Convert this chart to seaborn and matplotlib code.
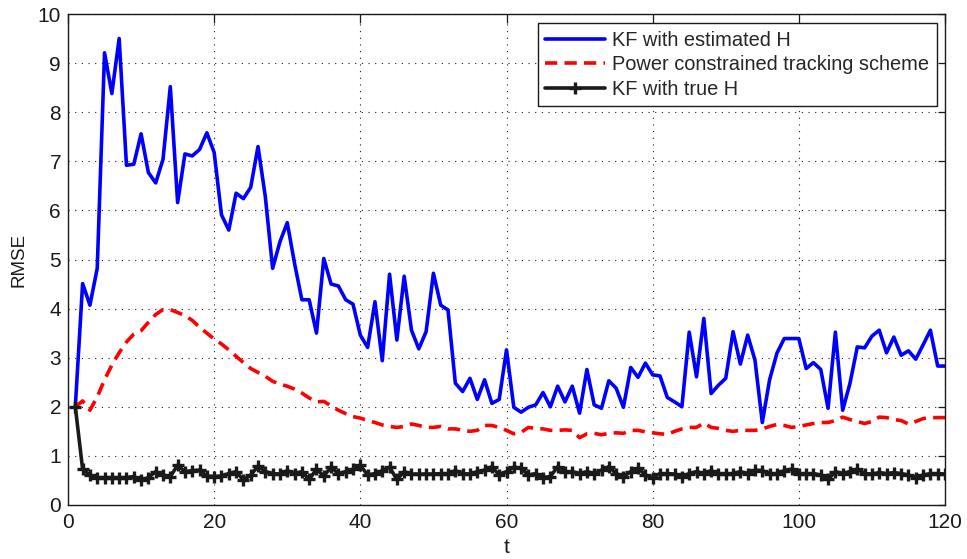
import numpy as np
import pandas as pd
import matplotlib
matplotlib.use("Agg")
import matplotlib.pyplot as plt
import seaborn as sns

# Time steps
t = np.arange(1, 121)

# RMSE of the Kalman filter driven by the estimated channel
kf_estimated = [
    2.00, 4.51, 4.07, 4.82, 9.21, 8.38, 9.50, 6.92, 6.94, 7.56,
    6.77, 6.56, 7.04, 8.52, 6.16, 7.15, 7.11, 7.24, 7.58, 7.18,
    5.91, 5.60, 6.35, 6.24, 6.47, 7.30, 6.28, 4.82, 5.36, 5.75,
    4.92, 4.18, 4.18, 3.50, 5.02, 4.50, 4.46, 4.18, 4.09, 3.46,
    3.21, 4.14, 2.94, 4.70, 3.36, 4.66, 3.56, 3.18, 3.53, 4.72,
    4.07, 3.97, 2.48, 2.31, 2.58, 2.15, 2.55, 2.07, 2.15, 3.16,
    1.99, 1.89, 1.99, 2.04, 2.29, 2.00, 2.42, 2.10, 2.42, 1.87,
    2.76, 2.04, 1.97, 2.53, 2.38, 1.99, 2.80, 2.60, 2.89, 2.65,
    2.63, 2.19, 2.10, 2.00, 3.52, 2.61, 3.80, 2.27, 2.44, 2.58,
    3.53, 2.87, 3.46, 2.95, 1.68, 2.55, 3.09, 3.39, 3.39, 3.39,
    2.78, 2.90, 2.76, 1.97, 3.52, 1.93, 2.48, 3.22, 3.20, 3.44,
    3.56, 3.10, 3.42, 3.05, 3.14, 2.97, 3.26, 3.56, 2.83, 2.83,
]

# RMSE of the power constrained tracking scheme
power_constrained = [
    2.00, 2.12, 1.93, 2.20, 2.55, 2.85, 3.10, 3.32, 3.48, 3.55,
    3.72, 3.88, 3.98, 3.98, 3.92, 3.86, 3.76, 3.62, 3.50, 3.38,
    3.28, 3.16, 3.03, 2.90, 2.78, 2.70, 2.62, 2.52, 2.46, 2.42,
    2.36, 2.28, 2.18, 2.10, 2.11, 2.02, 1.93, 1.86, 1.80, 1.77,
    1.72, 1.68, 1.63, 1.60, 1.58, 1.60, 1.65, 1.62, 1.58, 1.58,
    1.60, 1.55, 1.55, 1.52, 1.50, 1.52, 1.62, 1.62, 1.58, 1.52,
    1.45, 1.48, 1.58, 1.56, 1.55, 1.52, 1.52, 1.53, 1.52, 1.37,
    1.45, 1.46, 1.43, 1.46, 1.47, 1.46, 1.52, 1.52, 1.49, 1.47,
    1.45, 1.44, 1.50, 1.55, 1.58, 1.58, 1.67, 1.58, 1.56, 1.52,
    1.50, 1.52, 1.52, 1.52, 1.55, 1.60, 1.64, 1.62, 1.58, 1.60,
    1.63, 1.66, 1.68, 1.68, 1.72, 1.79, 1.74, 1.70, 1.66, 1.70,
    1.79, 1.78, 1.74, 1.72, 1.65, 1.70, 1.76, 1.78, 1.78, 1.78,
]

# RMSE of the Kalman filter with the true channel
kf_true = [
    2.00, 0.73, 0.61, 0.56, 0.56, 0.56, 0.56, 0.56, 0.58, 0.50,
    0.56, 0.68, 0.61, 0.58, 0.81, 0.68, 0.70, 0.71, 0.59, 0.58,
    0.59, 0.64, 0.68, 0.51, 0.61, 0.79, 0.68, 0.64, 0.63, 0.70,
    0.64, 0.68, 0.52, 0.73, 0.59, 0.77, 0.64, 0.68, 0.73, 0.81,
    0.61, 0.64, 0.70, 0.77, 0.52, 0.68, 0.63, 0.63, 0.63, 0.63,
    0.64, 0.64, 0.70, 0.64, 0.63, 0.68, 0.71, 0.78, 0.61, 0.68,
    0.77, 0.75, 0.61, 0.64, 0.56, 0.58, 0.78, 0.68, 0.68, 0.64,
    0.68, 0.64, 0.71, 0.78, 0.64, 0.58, 0.68, 0.75, 0.61, 0.56,
    0.64, 0.64, 0.63, 0.58, 0.64, 0.68, 0.64, 0.70, 0.64, 0.64,
    0.64, 0.68, 0.64, 0.71, 0.70, 0.64, 0.64, 0.70, 0.73, 0.64,
    0.64, 0.64, 0.61, 0.52, 0.68, 0.64, 0.68, 0.73, 0.64, 0.63,
    0.66, 0.64, 0.66, 0.64, 0.61, 0.56, 0.61, 0.64, 0.64, 0.63,
]

labels = ["KF with estimated H", "Power constrained tracking scheme", "KF with true H"]
x_ticks = [0, 20, 40, 60, 80, 100, 120]
y_ticks = list(range(0, 11))

sns.set_theme(style="white")
plt.rcParams["font.family"] = ["Liberation Sans", "DejaVu Sans"]

fig = plt.figure(figsize=(9.67, 5.59), dpi=100)
ax = fig.add_axes([68 / 967, 1 - 505 / 559, (945 - 68) / 967, (505 - 14) / 559])

df = pd.DataFrame({"t": t, "est": kf_estimated, "pow": power_constrained, "true": kf_true})

sns.lineplot(data=df, x="t", y="est", ax=ax, color=(0, 0, 1), linewidth=2.6,
             label=labels[0])
sns.lineplot(data=df, x="t", y="pow", ax=ax, color=(1, 0, 0), linewidth=2.6,
             linestyle=(0, (3.4, 2.0)), label=labels[1])
sns.lineplot(data=df, x="t", y="true", ax=ax, color="k", linewidth=2.6,
             marker="+", markersize=8.5, markeredgewidth=2.4,
             markeredgecolor="k", label=labels[2])

ax.set_xlim(0, 120)
ax.set_ylim(0, 10)
ax.set_xticks(x_ticks)
ax.set_yticks(y_ticks)
ax.set_xticklabels([str(v) for v in x_ticks])
ax.set_yticklabels([str(v) for v in y_ticks])

ax.grid(True, color="k", linestyle=(0, (1, 5)), linewidth=0.8)
for s in ax.spines.values():
    s.set_visible(True)
    s.set_color("k")
    s.set_linewidth(1.0)

ax.tick_params(axis="both", which="both", direction="in", top=True, right=True,
               colors="k", labelsize=15, width=0.9)
ax.tick_params(axis="x", length=6.5, pad=6)
ax.tick_params(axis="y", length=5, pad=5)

ax.set_xlabel("t", fontsize=15, color="k", labelpad=4)
ax.set_ylabel("RMSE", fontsize=13.5, color="k", labelpad=7)

leg = ax.legend(loc="upper right", bbox_to_anchor=(937 / 967, 1 - 23 / 559),
                bbox_transform=fig.transFigure, borderaxespad=0,
                fontsize=14.4, frameon=True, fancybox=False, framealpha=1,
                edgecolor="k", handlelength=3.0, handletextpad=0.35,
                borderpad=0.38, labelspacing=0.28)
leg.get_frame().set_linewidth(1.0)

fig.savefig("out.png", dpi=100, facecolor="white")
